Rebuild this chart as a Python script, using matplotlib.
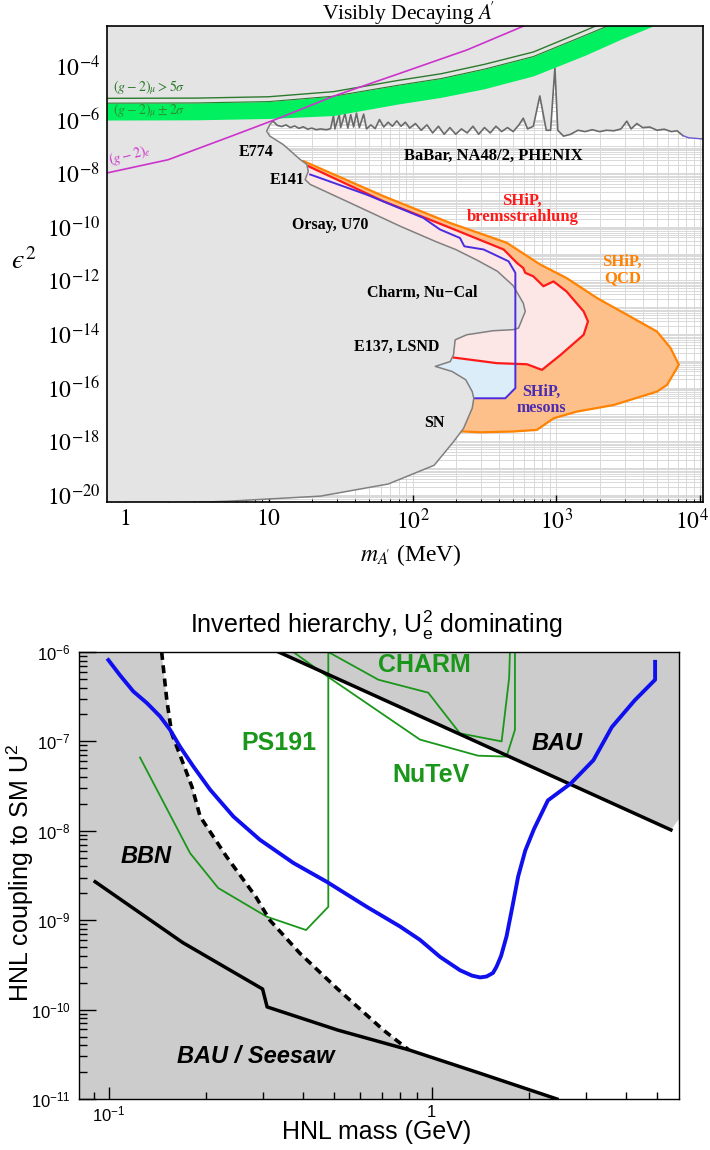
import numpy as np
import matplotlib
matplotlib.use("Agg")
import matplotlib.pyplot as plt
import matplotlib.transforms as mtransforms
from matplotlib.ticker import FixedLocator, NullFormatter

plt.rcParams["font.family"] = ["Liberation Sans", "DejaVu Sans"]
plt.rcParams["mathtext.fontset"] = "custom"
plt.rcParams["mathtext.rm"] = "Liberation Sans"
plt.rcParams["mathtext.it"] = "Liberation Sans:italic"
plt.rcParams["mathtext.bf"] = "Liberation Sans:bold"

SERIF = "Liberation Serif"

# ---------------- top panel: visibly decaying A'  (log10 m[MeV], log10 eps^2)
BABAR_LOGM = [1.03, 1.06, 1.09, 1.12, 1.15, 1.18, 1.21, 1.24, 1.27, 1.30, 1.33, 1.36,
              1.40, 1.43, 1.45, 1.46, 1.49, 1.50, 1.53, 1.55, 1.57, 1.59, 1.61, 1.63,
              1.66, 1.68, 1.71, 1.74, 1.77, 1.80, 1.83, 1.86, 1.89, 1.92, 1.95, 1.98,
              2.02, 2.06, 2.10, 2.14, 2.18, 2.22, 2.26, 2.30, 2.34, 2.38, 2.42, 2.46,
              2.50, 2.54, 2.58, 2.62, 2.66, 2.70, 2.74, 2.77, 2.80, 2.84, 2.885, 2.93,
              2.96, 2.99, 3.01, 3.05, 3.10, 3.15, 3.20, 3.25, 3.30, 3.35, 3.40, 3.45,
              3.49, 3.52, 3.56, 3.60, 3.65, 3.70, 3.75, 3.80, 3.84, 3.88, 3.92, 4.05]
BABAR_LOGE = [-6.06, -6.22, -6.26, -6.20, -6.30, -6.24, -6.33, -6.27, -6.36, -6.32, -6.38, -6.35,
              -6.38, -6.34, -5.85, -6.35, -5.80, -6.30, -5.78, -6.32, -5.82, -6.28, -5.76, -6.30,
              -5.80, -6.35, -6.20, -6.34, -6.00, -6.28, -6.10, -6.25, -6.05, -6.25, -6.10, -6.32,
              -6.15, -6.40, -6.20, -6.50, -6.25, -6.55, -6.30, -6.55, -6.35, -6.50, -6.25, -6.55,
              -6.30, -6.50, -6.25, -6.45, -6.30, -6.45, -6.20, -5.95, -6.35, -6.25, -5.12, -6.40,
              -6.40, -4.06, -6.40, -6.62, -6.55, -6.40, -6.45, -6.38, -6.45, -6.40, -6.42, -6.35,
              -6.06, -6.35, -6.15, -6.30, -6.28, -6.40, -6.36, -6.45, -6.42, -6.60, -6.68, -6.74]

# E774 / E141 / Orsay / Charm / E137 / SN excluded boundary
EXCL_LOGM = [1.008, 0.985, 1.008, 1.10, 1.218, 1.264, 1.275, 1.253, 1.288, 1.566, 1.914,
             2.16, 2.30, 2.45, 2.59, 2.70, 2.77, 2.784, 2.737, 2.70, 2.56, 2.377, 2.296,
             2.285, 2.262, 2.158, 2.275, 2.37, 2.415, 2.426, 2.415, 2.355, 2.285, 2.15,
             1.83, 1.36, 0.72, 0.3]
EXCL_LOGE = [-6.18, -6.43, -6.62, -6.93, -7.49, -7.67, -7.93, -8.24, -8.42, -9.11, -9.98,
             -10.55, -10.85, -11.25, -11.66, -12.2, -12.85, -13.16, -13.78, -13.84, -13.88,
             -14.03, -14.22, -14.78, -15.03, -15.21, -15.40, -15.71, -16.15, -16.40, -16.77,
             -17.52, -18.02, -18.9, -19.6, -20.05, -20.24, -20.32]

GM2_LOGM = [-0.2, 0.5, 1.0, 1.45, 1.9, 2.2, 2.5, 2.84, 3.2, 3.45, 3.7]
GM2_LOW = [-6.02, -6.01, -5.96, -5.85, -5.42, -5.17, -4.85, -4.37, -3.6, -3.0, -2.45]
GM2_HIGH = [-5.39, -5.38, -5.33, -5.13, -4.72, -4.47, -4.12, -3.65, -2.86, -2.3, -1.8]
GM2_5SIG = [-5.21, -5.20, -5.15, -4.96, -4.54, -4.29, -3.94, -3.48, -2.68, -2.1, -1.6]

GE2_LOGM = [-0.2, 0.3, 0.75, 1.08, 1.45, 1.91, 2.38, 2.8]
GE2_LOGE = [-8.08, -7.5, -6.6, -5.93, -5.13, -4.28, -3.4, -2.45]

QCD_LOGM = [1.241, 1.798, 2.262, 2.656, 2.888, 3.07, 3.283, 3.49, 3.70, 3.795, 3.852,
            3.77, 3.70, 3.40, 3.14, 2.98, 2.865, 2.70, 2.47, 2.355]
QCD_LOGE = [-7.55, -8.86, -9.86, -10.6, -11.41, -11.91, -12.66, -13.28, -13.91, -14.53,
            -15.15, -15.9, -16.15, -16.65, -16.9, -17.15, -17.58, -17.64, -17.67, -17.64]

BREMS_LOGM = [1.275, 1.798, 2.262, 2.634, 2.726, 2.77, 2.784, 2.84, 2.91, 2.98, 3.07,
              3.19, 3.22, 3.19, 3.03, 2.90, 2.795, 2.587, 2.285]
BREMS_LOGE = [-7.74, -9.05, -10.04, -10.85, -11.35, -11.54, -11.72, -11.85, -12.22, -12.04,
              -12.41, -13.16, -13.53, -14.03, -14.78, -15.34, -15.13, -15.09, -14.88]

MESON_LOGM = [1.288, 1.68, 2.075, 2.19, 2.33, 2.36, 2.495, 2.668, 2.715, 2.715, 2.645, 2.436]
MESON_LOGE = [-8.05, -8.80, -9.67, -10.10, -10.42, -10.73, -10.85, -11.29, -11.72, -16.02,
              -16.4, -16.4]
MESON_ONLY_LOGM = [2.285, 2.587, 2.715, 2.715, 2.645, 2.436]
MESON_ONLY_LOGE = [-14.88, -15.09, -15.11, -16.02, -16.4, -16.4]

TOP_XTICKS = [1, 10, 100, 1000, 10000]
TOP_XLABELS = ["$1$", "$10$", "$10^2$", "$10^3$", "$10^4$"]
TOP_YEXP = [-4, -6, -8, -10, -12, -14, -16, -18, -20]

# ---------------- bottom panel: HNL, inverted hierarchy (log10 m[GeV], log10 U^2)
SHIP_LOGM = [-1.001, -0.965, -0.924, -0.882, -0.841, -0.810, -0.779, -0.738, -0.686, -0.614,
             -0.532, -0.428, -0.325, -0.201, -0.098, -0.036, 0.026, 0.088, 0.125, 0.150,
             0.170, 0.19, 0.201, 0.215, 0.232, 0.25, 0.268, 0.29, 0.317, 0.36,
             0.431, 0.501, 0.558, 0.629, 0.692, 0.692]
SHIP_LOGU = [-6.09, -6.26, -6.44, -6.57, -6.72, -6.87, -7.06, -7.28, -7.54, -7.84,
             -8.10, -8.36, -8.57, -8.85, -9.07, -9.22, -9.41, -9.56, -9.62, -9.64,
             -9.63, -9.59, -9.52, -9.40, -9.18, -8.85, -8.51, -8.22, -7.98, -7.66,
             -7.47, -7.21, -6.84, -6.54, -6.31, -6.11]

BBN_LOGM = [-0.836, -0.820, -0.805, -0.769, -0.742, -0.717, -0.635, -0.544, -0.501, -0.408,
            -0.294, -0.149, -0.071]
BBN_LOGU = [-6.0, -6.54, -6.91, -7.25, -7.51, -7.84, -8.29, -8.74, -9.0, -9.37, -9.76,
            -10.23, -10.45]

SEESAW_LOGM = [-1.042, -0.771, -0.5235, -0.5095, -0.29, -0.071, 0.148, 0.388]
SEESAW_LOGU = [-8.57, -9.25, -9.77, -9.97, -10.23, -10.45, -10.71, -11.0]

BAU_LOGM = [-0.474, 0.741]
BAU_LOGU = [-6.0, -7.99]
BAU_REGION_LOGM = [-0.474, 0.741, 0.77]
BAU_REGION_LOGU = [-6.0, -7.99, -7.85]

PS191_LOGM = [-0.903, -0.748, -0.661, -0.511, -0.389, -0.32, -0.32]
PS191_LOGU = [-7.18, -8.25, -8.64, -8.96, -9.11, -8.85, -6.0]
CHARM_LOGM = [-0.32, -0.165, -0.0105, 0.0876, 0.2167, 0.240, 0.2424]
CHARM_LOGU = [-6.0, -6.31, -6.455, -6.91, -7.0, -6.29, -6.0]
NUTEV_LOGM = [-0.4285, -0.32, -0.036, 0.144, 0.232, 0.258, 0.258]
NUTEV_LOGU = [-6.0, -6.28, -6.98, -7.16, -7.17, -6.87, -6.0]

BOT_YEXP = [-6, -7, -8, -9, -10, -11]


def ten(a):
    return 10.0 ** np.asarray(a, dtype=float)


W, H = 710.0, 1150.0


def frame(l, t, r, b):
    return [l / W, 1 - b / H, (r - l) / W, (b - t) / H]


fig = plt.figure(figsize=(7.1, 11.5), dpi=100)

# ================= top panel
ax1 = fig.add_axes(frame(107, 26, 703, 502))
ax1.set_xscale("log")
ax1.set_yscale("log")
XL = (-0.125, 4.02)
YL = (-20.27, -2.51)

gx = np.outer(10.0 ** np.arange(-1, 5), np.arange(1, 10)).ravel()
gy = np.outer(10.0 ** np.arange(-21, -1), np.arange(1, 10)).ravel()
ax1.vlines(gx, 1e-21, 1e-2, colors="#d9d9d9", lw=0.7, zorder=0.5)
ax1.hlines(gy, 0.1, 1e5, colors="#d9d9d9", lw=0.7, zorder=0.5)

xlo = XL[0] - 0.2
ax1.fill(ten(np.r_[QCD_LOGM, xlo, xlo]), ten(np.r_[QCD_LOGE, QCD_LOGE[-1], QCD_LOGE[0]]),
         fc="#fdc08a", ec="#ff8200", lw=1.6, zorder=1)
ax1.fill(ten(np.r_[BREMS_LOGM, xlo, xlo]), ten(np.r_[BREMS_LOGE, BREMS_LOGE[-1], BREMS_LOGE[0]]),
         fc="#fde6e6", lw=0, zorder=1.5)
ax1.fill(ten(np.r_[MESON_ONLY_LOGM, xlo, xlo]),
         ten(np.r_[MESON_ONLY_LOGE, MESON_ONLY_LOGE[-1], MESON_ONLY_LOGE[0]]),
         fc="#dcedfa", lw=0, zorder=1.8)
ax1.plot(ten(BREMS_LOGM), ten(BREMS_LOGE), color="#ff1a1a", lw=1.6, zorder=2)

# excluded (grey) area: above BaBar and left of the beam-dump / SN boundary
gpx = np.r_[-1, 5, 5, BABAR_LOGM[::-1], EXCL_LOGM, EXCL_LOGM[-1], -1]
gpy = np.r_[0, 0, BABAR_LOGE[-1], BABAR_LOGE[::-1], EXCL_LOGE, -22, -22]
ax1.fill(ten(gpx), ten(gpy), fc="#e4e4e4", lw=0, zorder=3)
ax1.plot(ten(np.r_[BABAR_LOGM[0], EXCL_LOGM]), ten(np.r_[BABAR_LOGE[0], EXCL_LOGE]),
         color="#808080", lw=1.1, zorder=3.2)
ax1.plot(ten(BABAR_LOGM[:-2]), ten(BABAR_LOGE[:-2]), color="#6a6a6a", lw=1.2, zorder=3.2)
ax1.plot(ten(BABAR_LOGM[-3:]), ten(BABAR_LOGE[-3:]), color="#6a5acd", lw=1.0, zorder=3.2)

ax1.plot(ten(MESON_LOGM), ten(MESON_LOGE), color="#4b2be0", lw=1.4, zorder=3.4)

ax1.fill_between(ten(GM2_LOGM), ten(GM2_LOW), ten(GM2_HIGH), color="#00f060", lw=0, zorder=4)
ax1.plot(ten(GM2_LOGM), ten(GM2_HIGH), color="#2d7a2d", lw=0.8, zorder=4.1)
ax1.plot(ten(GM2_LOGM), ten(GM2_5SIG), color="#2d7a2d", lw=1.0, zorder=4.1)
ax1.plot(ten(GE2_LOGM), ten(GE2_LOGE), color="#cc33cc", lw=1.2, zorder=4.5)

ax1.set_xlim(ten(XL[0]), ten(XL[1]))
ax1.set_ylim(ten(YL[0]), ten(YL[1]))
ax1.set_xticks(TOP_XTICKS, TOP_XLABELS, fontfamily=SERIF, math_fontfamily="stix", fontsize=17)
ax1.set_yticks(ten(TOP_YEXP), ["$10^{%d}$" % e for e in TOP_YEXP],
               fontfamily=SERIF, math_fontfamily="stix", fontsize=17)
ax1.xaxis.set_minor_locator(FixedLocator(gx))
ax1.yaxis.set_minor_locator(FixedLocator([]))
ax1.xaxis.set_minor_formatter(NullFormatter())
ax1.tick_params(which="major", direction="in", length=5, width=1, top=False, right=False, pad=5)
ax1.tick_params(axis="x", which="minor", direction="in", length=2.5, width=0.6, top=False)
last = ax1.get_xticklabels()[-1]
last.set_transform(last.get_transform()
                   + mtransforms.ScaledTranslation(-8 / 100, 0, fig.dpi_scale_trans))
for s in ax1.spines.values():
    s.set_linewidth(1.2)
    s.set_zorder(6)

lab = dict(fontfamily=SERIF, fontweight="bold", ha="center", va="center", zorder=7)
ax1.text(ten(0.912), ten(-7.21), "E774", fontsize=11.5, **lab)
ax1.text(ten(1.127), ten(-8.25), "E141", fontsize=11.5, **lab)
ax1.text(ten(1.427), ten(-9.93), "Orsay, U70", fontsize=11.5, **lab)
ax1.text(ten(2.067), ten(-12.47), "Charm, Nu\u2212Cal", fontsize=11.5, **lab)
ax1.text(ten(1.893), ten(-14.49), "E137, LSND", fontsize=11.5, **lab)
ax1.text(ten(2.15), ten(-17.32), "SN", fontsize=11.5, **lab)
ax1.text(ten(2.561), ten(-7.36), "BaBar, NA48/2, PHENIX", fontsize=12, **lab)
ax1.text(ten(2.763), ten(-9.34), "SHiP,\nbremsstrahlung", fontsize=12, color="#ff1a1a",
         linespacing=1.0, **lab)
ax1.text(ten(3.459), ten(-11.61), "SHiP,\nQCD", fontsize=12, color="#ff8200",
         linespacing=1.0, **lab)
ax1.text(ten(2.895), ten(-16.46), "SHiP,\nmesons", fontsize=11.5, color="#4b2bb0",
         linespacing=1.0, **lab)
ax1.text(ten(0.167), ten(-4.82), r"$(g-2)_\mu > 5\sigma$", fontsize=10, color="#2d7a2d",
         math_fontfamily="stix", ha="center", va="center", zorder=7)
ax1.text(ten(0.167), ten(-5.68), r"$(g-2)_\mu \pm 2\sigma$", fontsize=10, color="#2f8f2f",
         math_fontfamily="stix", ha="center", va="center", zorder=7)
ax1.text(ten(0.035), ten(-7.32), r"$(g-2)_e$", fontsize=10, color="#cc33cc", rotation=14,
         math_fontfamily="stix", ha="center", va="center", zorder=7)

fig.text(408 / W, 1 - 20 / H, r"Visibly Decaying $A\!'$", fontsize=15.5, fontfamily=SERIF,
         math_fontfamily="stix", ha="center", va="baseline")
fig.text(411 / W, 1 - 555 / H, r"$m_{A\!'}$ (MeV)", fontsize=17, fontfamily=SERIF,
         math_fontfamily="stix", ha="center", va="center")
fig.text(24 / W, 1 - 262 / H, "$\u03f5^2$", fontsize=20, math_fontfamily="stix",
         ha="center", va="center")

# ================= bottom panel
ax2 = fig.add_axes(frame(79, 652, 679, 1099))
ax2.set_xscale("log")
ax2.set_yscale("log")
BXL = (-1.092, 0.766)
GREY = "#cccccc"
GREEN = "#1a961a"

after = np.asarray(SEESAW_LOGM) > BBN_LOGM[-1]
bx0 = BXL[0] - 0.1
ax2.fill(ten(np.r_[bx0, BBN_LOGM, np.asarray(SEESAW_LOGM)[after], SEESAW_LOGM[-1], bx0]),
         ten(np.r_[-5.9, BBN_LOGU, np.asarray(SEESAW_LOGU)[after], -11.1, -11.1]),
         fc=GREY, lw=0, zorder=1)
ax2.fill(ten(np.r_[BAU_REGION_LOGM, BAU_REGION_LOGM[-1], BAU_REGION_LOGM[0]]),
         ten(np.r_[BAU_REGION_LOGU, -5.9, -5.9]), fc=GREY, lw=0, zorder=1)

for lx, ly in [(PS191_LOGM, PS191_LOGU), (CHARM_LOGM, CHARM_LOGU), (NUTEV_LOGM, NUTEV_LOGU)]:
    ax2.plot(ten(lx), ten(ly), color=GREEN, lw=1.3, zorder=2)

ax2.plot(ten(BBN_LOGM), ten(BBN_LOGU), color="black", lw=2.6, ls=(0, (2.2, 1.5)), zorder=3)
ax2.plot(ten(SEESAW_LOGM), ten(SEESAW_LOGU), color="black", lw=2.5, zorder=3)
ax2.plot(ten(BAU_LOGM), ten(BAU_LOGU), color="black", lw=2.5, zorder=3)
ax2.plot(ten(SHIP_LOGM), ten(SHIP_LOGU), color="#1010ee", lw=2.8, zorder=4,
         solid_joinstyle="round")

ax2.set_xlim(ten(BXL[0]), ten(BXL[1]))
ax2.set_ylim(1e-11, 1e-6)
ax2.set_xticks([0.1, 1], ["$10^{-1}$", "1"], fontsize=12)
ax2.xaxis.set_minor_locator(FixedLocator([0.09, 0.2, 0.3, 0.4, 0.5, 0.6, 0.7, 0.8, 0.9,
                                          2, 3, 4, 5]))
ax2.xaxis.set_minor_formatter(NullFormatter())
ax2.set_yticks(ten(BOT_YEXP), ["$10^{%d}$" % e for e in BOT_YEXP], fontsize=12)
ax2.yaxis.set_minor_locator(FixedLocator(np.outer(10.0 ** np.arange(-11, -6),
                                                  np.arange(2, 10)).ravel()))
ax2.yaxis.set_minor_formatter(NullFormatter())
ax2.tick_params(axis="y", which="major", direction="in", length=12, width=1, pad=6, right=False)
ax2.tick_params(axis="y", which="minor", direction="in", length=6, width=1, right=False)
ax2.tick_params(axis="x", which="major", direction="in", length=9, width=1, pad=4, top=False)
ax2.tick_params(axis="x", which="minor", direction="in", length=5, width=1, top=False)
for s in ax2.spines.values():
    s.set_linewidth(1.0)
    s.set_zorder(6)

gl = dict(color=GREEN, fontsize=18, fontweight="bold", ha="center", va="center", zorder=7)
ax2.text(ten(-0.021), ten(-6.145), "CHARM", **gl)
ax2.text(ten(-0.473), ten(-7.02), "PS191", **gl)
ax2.text(ten(-0.002), ten(-7.38), "NuTeV", **gl)
bl = dict(color="black", fontsize=17, fontweight="bold", fontstyle="italic",
          ha="center", va="center", zorder=7)
ax2.text(ten(-0.885), ten(-8.29), "BBN", **bl)
ax2.text(ten(0.388), ten(-7.02), "BAU", **bl)
ax2.text(ten(-0.544), ten(-10.53), "BAU / Seesaw", **bl)

fig.text(376 / W, 1 - 633 / H,
         r"Inverted hierarchy, $\mathrm{U}_\mathrm{e}^\mathrm{2}$ dominating",
         fontsize=18, ha="center", va="baseline")
fig.text(377 / W, 1 - 1132 / H, "HNL mass (GeV)", fontsize=18, ha="center", va="center")
fig.text(20 / W, 1 - 873 / H, r"HNL coupling to SM U$^\mathrm{2}$", fontsize=18,
         rotation=90, ha="center", va="center")

fig.savefig("out.png", dpi=100)
